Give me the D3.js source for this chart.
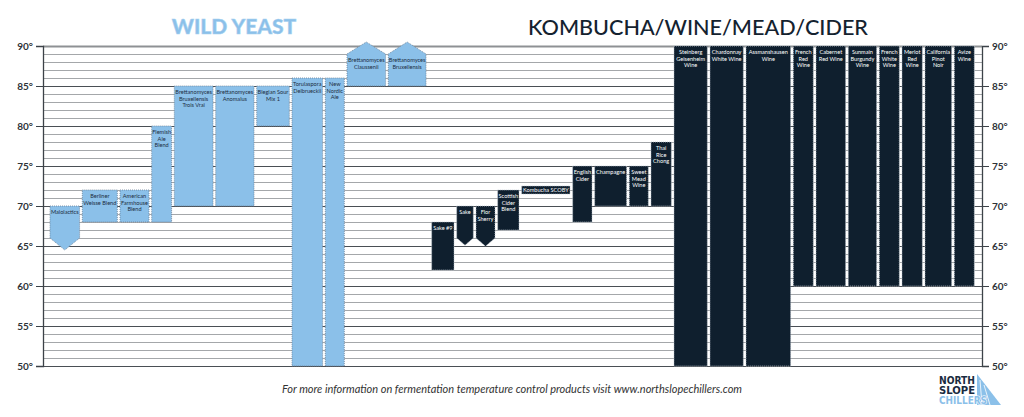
<!DOCTYPE html>
<html>
<head>
<meta charset="utf-8">
<script src="https://cdn.jsdelivr.net/npm/d3@7"></script>
<style>
  html, body { margin: 0; padding: 0; background: #fff; }
  svg { display: block; font-family: Lato, "Open Sans", sans-serif; }
</style>
</head>
<body>
<svg id="chart" width="1024" height="417"></svg>
<script>
// ---- data ----
const names = [
  "Malolactics", "Berliner|Weisse Blend", "American|Farmhouse|Blend", "Flemish|Ale|Blend",
  "Brettanomyces|Bruxellensis|Trois Vrai", "Brettanomyces|Anomalus", "Blegian Sour|Mix 1",
  "Torulaspora|Delbrueckii", "New|Nordic|Ale", "Brettanomyces|Claussenii", "Brettanomyces|Bruxellensis",
  "Sake #9", "Sake", "Flor|Sherry", "Scottish|Cider|Blend", "Kombucha SCOBY", "English|Cider",
  "Champagne", "Sweet|Mead|Wine", "Thai|Rice|Chong",
  "Steinberg|Geisenheim|Wine", "Chardonnay|White Wine", "Assmanshausen|Wine", "French|Red|Wine",
  "Cabernet|Red Wine", "Sunmain|Burgundy|Wine", "French|White|Wine", "Merlot|Red|Wine",
  "California|Pinot|Noir", "Avize|Wine"
];
const groups = [
  "wild","wild","wild","wild","wild","wild","wild","wild","wild","wild","wild",
  "kmwc","kmwc","kmwc","kmwc","kmwc","kmwc","kmwc","kmwc","kmwc",
  "kmwc","kmwc","kmwc","kmwc","kmwc","kmwc","kmwc","kmwc","kmwc","kmwc"
];
const lowTemp  = [66, 68, 68, 68, 70, 70, 80, 50, 50, 85, 85,
                  62, 66, 66, 67, 71.5, 68, 70, 70, 70,
                  50, 50, 50, 60, 60, 60, 60, 60, 60, 60];
const highTemp = [70, 72, 72, 80, 85, 85, 85, 86, 86, 89, 89,
                  68, 70, 70, 72, 72.5, 75, 75, 75, 78,
                  90, 90, 90, 90, 90, 90, 90, 90, 90, 90];
const openEnd  = ["down","","","","","","","","","up","up",
                  "","down","down","","","","","","",
                  "","","","","","","","","",""];
// relative label-column widths (units)
const columnWidth = [29.6, 35, 29, 19.9, 38.7, 38.3, 32.6, 30.6, 19, 38.6, 37.7,
                     22.3, 16.6, 19, 21.3, 48.3, 19.3, 31.9, 19, 20.3,
                     33.3, 33.3, 44.6, 20, 29.6, 28.3, 20, 20.3, 26.6, 20];
const groupTitles = ["WILD YEAST", "KOMBUCHA/WINE/MEAD/CIDER"];
const yTicks = [50, 55, 60, 65, 70, 75, 80, 85, 90];
const footer = "For more information on fermentation temperature control products visit www.northslopechillers.com";
const logoLines = ["NORTH", "SLOPE", "CHILLERS"];

// ---- layout ----
const W = 1024, H = 417;
const plot = {left: 43, right: 982, top: 46, bottom: 366};
const colGap = 2.7, groupGap = 3;
const BLUE = "#8bc0e9", NAVY = "#0f1f2e";

const svg = d3.select("#chart");

// cumulative column units
let acc = 0;
const cols = names.map((n, i) => {
  if (i > 0) { acc += colGap + (groups[i] !== groups[i-1] ? groupGap : 0); }
  const c = {name: n, group: groups[i], lo: lowTemp[i], hi: highTemp[i], open: openEnd[i], u0: acc, u1: acc + columnWidth[i]};
  acc += columnWidth[i];
  return c;
});
const x = d3.scaleLinear().domain([0, acc]).range([50, 974.3]);
const y = d3.scaleLinear().domain([50, 90]).range([plot.bottom, plot.top]);

// gridlines
const grid = svg.append("g");
grid.selectAll("line.minor").data(d3.range(51, 90).filter(v => v % 5 !== 0)).join("line")
  .attr("x1", plot.left).attr("x2", plot.right)
  .attr("y1", d => y(d) + 0.5).attr("y2", d => y(d) + 0.5)
  .attr("stroke", "#a4a7aa").attr("stroke-width", 1);
grid.selectAll("line.major").data(yTicks).join("line")
  .attr("x1", plot.left).attr("x2", plot.right)
  .attr("y1", d => y(d) + 0.5).attr("y2", d => y(d) + 0.5)
  .attr("stroke", d => d === 90 ? "#8e9194" : "#4a4f55").attr("stroke-width", d => d === 90 ? 2 : 1);

// bars
const bars = svg.append("g");
cols.forEach(c => {
  const x0 = x(c.u0), x1 = x(c.u1), w = x1 - x0;
  const yt = y(c.hi), yb = y(c.lo);
  const ah = Math.min(12, w / 2.3);
  let pts;
  if (c.open === "down") {
    pts = [[x0, yt], [x1, yt], [x1, yb], [(x0 + x1) / 2, yb + ah], [x0, yb]];
  } else if (c.open === "up") {
    pts = [[x0, yb], [x0, yt], [(x0 + x1) / 2, yt - ah], [x1, yt], [x1, yb]];
  } else {
    pts = [[x0, yt], [x1, yt], [x1, yb], [x0, yb]];
  }
  const isWild = c.group === "wild";
  bars.append("path")
    .attr("d", d3.line()(pts) + "Z")
    .attr("fill", isWild ? BLUE : NAVY)
    .attr("stroke", isWild ? "#6d8197" : "#b9c2cb")
    .attr("stroke-width", 0.8)
    .attr("stroke-dasharray", "1,1");
  const lines = c.name.split("|");
  const t = bars.append("text")
    .attr("text-anchor", "middle")
    .attr("font-size", 5.6)
    .attr("fill", isWild ? "#1d2d3f" : "#ffffff");
  const lh = 6.8;
  let firstY;
  if (c.hi - c.lo < 2) firstY = (yt + yb) / 2 + 2;
  else firstY = yt + 7.7;
  lines.forEach((ln, k) => {
    t.append("tspan").attr("x", (x0 + x1) / 2).attr("y", firstY + k * lh).text(ln);
  });
});

// axes
const axL = svg.append("g").attr("transform", `translate(${plot.left},0)`)
  .call(d3.axisLeft(y).tickValues(yTicks).tickSize(7).tickPadding(3).tickFormat(d => d + "°"));
const axR = svg.append("g").attr("transform", `translate(${plot.right},0)`)
  .call(d3.axisRight(y).tickValues(yTicks).tickSize(7).tickPadding(3).tickFormat(d => d + "°"));
[axL, axR].forEach(a => {
  a.select(".domain").attr("stroke", "#3c4248").attr("stroke-width", 1.3);
  a.selectAll(".tick line").attr("stroke", "#3c4248");
  a.selectAll(".tick text").attr("font-family", "Lato, sans-serif").attr("font-size", 10)
    .attr("font-weight", "bold").attr("fill", "#2e3338");
});

// group titles
svg.append("text").attr("x", 234).attr("y", 34).attr("text-anchor", "middle")
  .attr("font-size", 21).attr("font-weight", 900).attr("fill", BLUE)
  .attr("stroke", "#a9d2f1").attr("stroke-width", 0.5)
  .text(groupTitles[0]);
svg.append("text").attr("x", 698).attr("y", 35).attr("text-anchor", "middle")
  .attr("font-size", 21.6).attr("font-weight", 500).attr("fill", "#14222f")
  .text(groupTitles[1]);

// footer
svg.append("text").attr("x", 512).attr("y", 393).attr("text-anchor", "middle")
  .attr("font-size", 11).attr("font-style", "italic").attr("fill", "#333")
  .text(footer);

// logo
const logo = svg.append("g");
logo.append("path")
  .attr("d", "M977,374 L1001,405 L977,405 Z")
  .attr("fill", BLUE);
logo.append("path")
  .attr("d", "M980,380 L982,405 M984,385 L990,405")
  .attr("stroke", "#ffffff").attr("stroke-width", 0.8);
const logoW = [36, 36, 48];
logoLines.forEach((t, i) => {
  logo.append("text").attr("x", 939).attr("y", 383.5 + i * 10.4)
    .attr("font-size", 10.5).attr("font-weight", 900)
    .attr("font-family", "'DejaVu Sans', sans-serif")
    .attr("textLength", logoW[i]).attr("lengthAdjust", "spacingAndGlyphs")
    .attr("stroke", "#ffffff").attr("stroke-width", 1.2).attr("paint-order", "stroke")
    .attr("fill", i < 2 ? "#1a2b40" : BLUE).text(t);
});
</script>
</body>
</html>
